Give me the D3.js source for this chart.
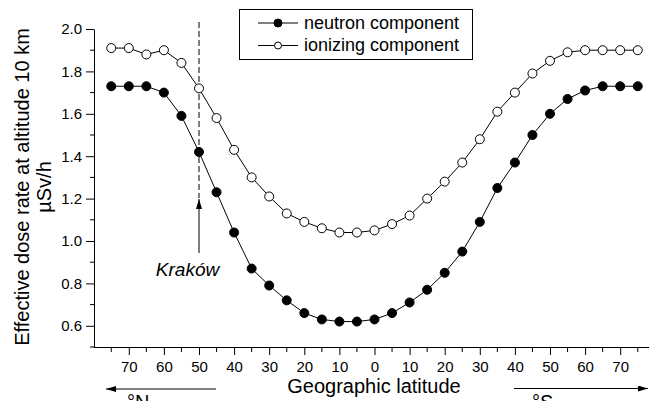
<!DOCTYPE html>
<html>
<head>
<meta charset="utf-8">
<script src="https://cdn.jsdelivr.net/npm/d3@7"></script>
<style>
  html, body { margin: 0; padding: 0; background: #fff; }
  svg { display: block; font-family: "Liberation Sans", Arial, sans-serif; }
</style>
</head>
<body>
<svg id="chart" width="649" height="401"></svg>
<script>
// Latitude (N positive, S negative), degrees
const latitudes = [75, 70, 65, 60, 55, 50, 45, 40, 35, 30, 25, 20, 15, 10, 5, 0,
                   -5, -10, -15, -20, -25, -30, -35, -40, -45, -50, -55, -60, -65, -70, -75];
// Effective dose rate at 10 km, µSv/h
const neutronValues = [1.73, 1.73, 1.73, 1.70, 1.59, 1.42, 1.23, 1.04, 0.87, 0.79, 0.72, 0.66, 0.63, 0.62, 0.62, 0.63,
                       0.66, 0.71, 0.77, 0.85, 0.95, 1.09, 1.25, 1.37, 1.50, 1.60, 1.67, 1.71, 1.73, 1.73, 1.73];
const ionizingValues = [1.91, 1.91, 1.88, 1.90, 1.84, 1.72, 1.58, 1.43, 1.30, 1.21, 1.13, 1.09, 1.06, 1.04, 1.04, 1.05,
                        1.08, 1.12, 1.20, 1.28, 1.37, 1.48, 1.61, 1.70, 1.79, 1.85, 1.89, 1.90, 1.90, 1.90, 1.90];
const seriesNames = ["neutron component", "ionizing component"];
const xTickValues = [70, 60, 50, 40, 30, 20, 10, 0, -10, -20, -30, -40, -50, -60, -70];
const yTickValues = [0.6, 0.8, 1.0, 1.2, 1.4, 1.6, 1.8, 2.0];
const krakowLatitude = 50;
const krakowLabel = "Kraków";
const xTitle = "Geographic latitude";
const yTitle1 = "Effective dose rate at altitude 10 km";
const yTitle2 = "µSv/h";

const svg = d3.select("#chart");
const x = d3.scaleLinear().domain([80, -80]).range([93.7, 655.3]);
const y = d3.scaleLinear().domain([0.5, 2.0]).range([347, 29]);

// Y axis
const yMinor = d3.range(0.5, 2.001, 0.1).map(v => +v.toFixed(1)).filter(v => !yTickValues.includes(v));
const gy = svg.append("g").attr("transform", "translate(94,0)");
gy.call(d3.axisLeft(y).tickValues(yTickValues).tickSize(8).tickSizeOuter(0).tickPadding(4).tickFormat(d3.format(".1f")));
gy.selectAll(".minor").data(yMinor).enter().append("line")
  .attr("x1", -4).attr("x2", 0).attr("y1", d => y(d)).attr("y2", d => y(d))
  .attr("stroke", "#000");
gy.selectAll("text").attr("font-size", 15).attr("font-family", "Liberation Sans, Arial, sans-serif").attr("fill", "#000");
gy.selectAll("path, line").attr("stroke", "#000");

// X axis
const xMinor = d3.range(-75, 80, 10);
const gx = svg.append("g").attr("transform", "translate(0,347)");
gx.call(d3.axisBottom(x).tickValues(xTickValues).tickSize(8).tickSizeOuter(0).tickPadding(6)
  .tickFormat(d => Math.abs(d)));
gx.selectAll(".minor").data(xMinor).enter().append("line")
  .attr("x1", d => x(d)).attr("x2", d => x(d)).attr("y1", 0).attr("y2", 5)
  .attr("stroke", "#000");
gx.selectAll("text").attr("font-size", 15).attr("font-family", "Liberation Sans, Arial, sans-serif").attr("fill", "#000");
gx.selectAll("path, line").attr("stroke", "#000");
gx.select(".domain").attr("d", `M${x(80)},0.5H649`);

// Titles
svg.append("text").attr("x", 374).attr("y", 393).attr("text-anchor", "middle")
  .attr("font-size", 20).text(xTitle);
svg.append("text").attr("transform", "translate(28.5,187) rotate(-90)").attr("text-anchor", "middle")
  .attr("font-size", 20).text(yTitle1);
svg.append("text").attr("transform", "translate(51,187) rotate(-90)").attr("text-anchor", "middle")
  .attr("font-size", 20).text(yTitle2);

// Arrow marker defs
const defs = svg.append("defs");
defs.append("marker").attr("id", "ah").attr("viewBox", "0 0 10 6").attr("refX", 10).attr("refY", 3)
  .attr("markerWidth", 10).attr("markerHeight", 6).attr("markerUnits", "userSpaceOnUse").attr("orient", "auto")
  .append("path").attr("d", "M0,0L10,3L0,6Z").attr("fill", "#000");

// Kraków marker
const kx = x(krakowLatitude);
svg.append("line").attr("x1", kx).attr("x2", kx).attr("y1", 22).attr("y2", 198)
  .attr("stroke", "#000").attr("stroke-dasharray", "6,3");
svg.append("line").attr("x1", kx).attr("x2", kx).attr("y1", 253).attr("y2", 199)
  .attr("stroke", "#000").attr("marker-end", "url(#ah)");
svg.append("text").attr("x", 187.5).attr("y", 276).attr("text-anchor", "middle")
  .attr("font-size", 19).attr("font-style", "italic").text(krakowLabel);

// Hemisphere arrows
svg.append("line").attr("x1", 216).attr("x2", 106).attr("y1", 389).attr("y2", 389)
  .attr("stroke", "#000").attr("marker-end", "url(#ah)");
svg.append("text").attr("x", 127).attr("y", 409).attr("font-size", 20).text("°N");
svg.append("line").attr("x1", 514).attr("x2", 648).attr("y1", 388.5).attr("y2", 388.5)
  .attr("stroke", "#000").attr("marker-end", "url(#ah)");
svg.append("text").attr("x", 532).attr("y", 409).attr("font-size", 20).text("°S");

// Series
const series = [
  { name: seriesNames[0], values: neutronValues, fill: "#000" },
  { name: seriesNames[1], values: ionizingValues, fill: "#fff" }
];
const line = d3.line().x((d, i) => x(latitudes[i])).y(d => y(d));
series.forEach(s => {
  svg.append("path").attr("d", line(s.values)).attr("fill", "none").attr("stroke", "#000").attr("stroke-width", 1);
  svg.append("g").selectAll("circle").data(s.values).enter().append("circle")
    .attr("cx", (d, i) => x(latitudes[i])).attr("cy", d => y(d)).attr("r", 4.5)
    .attr("fill", s.fill).attr("stroke", "#000").attr("stroke-width", 1);
});

// Legend
const lg = svg.append("g");
lg.append("rect").attr("x", 239.5).attr("y", 9.5).attr("width", 233).attr("height", 50)
  .attr("fill", "#fff").attr("stroke", "#000");
series.forEach((s, i) => {
  const ly = i === 0 ? 23 : 45.5;
  lg.append("line").attr("x1", 258).attr("x2", 298).attr("y1", ly).attr("y2", ly).attr("stroke", "#000");
  lg.append("circle").attr("cx", 278).attr("cy", ly).attr("r", i === 0 ? 4 : 3.5)
    .attr("fill", s.fill).attr("stroke", "#000");
  lg.append("text").attr("x", 304).attr("y", i === 0 ? 28.5 : 51).attr("font-size", 18).text(s.name);
});
</script>
</body>
</html>
